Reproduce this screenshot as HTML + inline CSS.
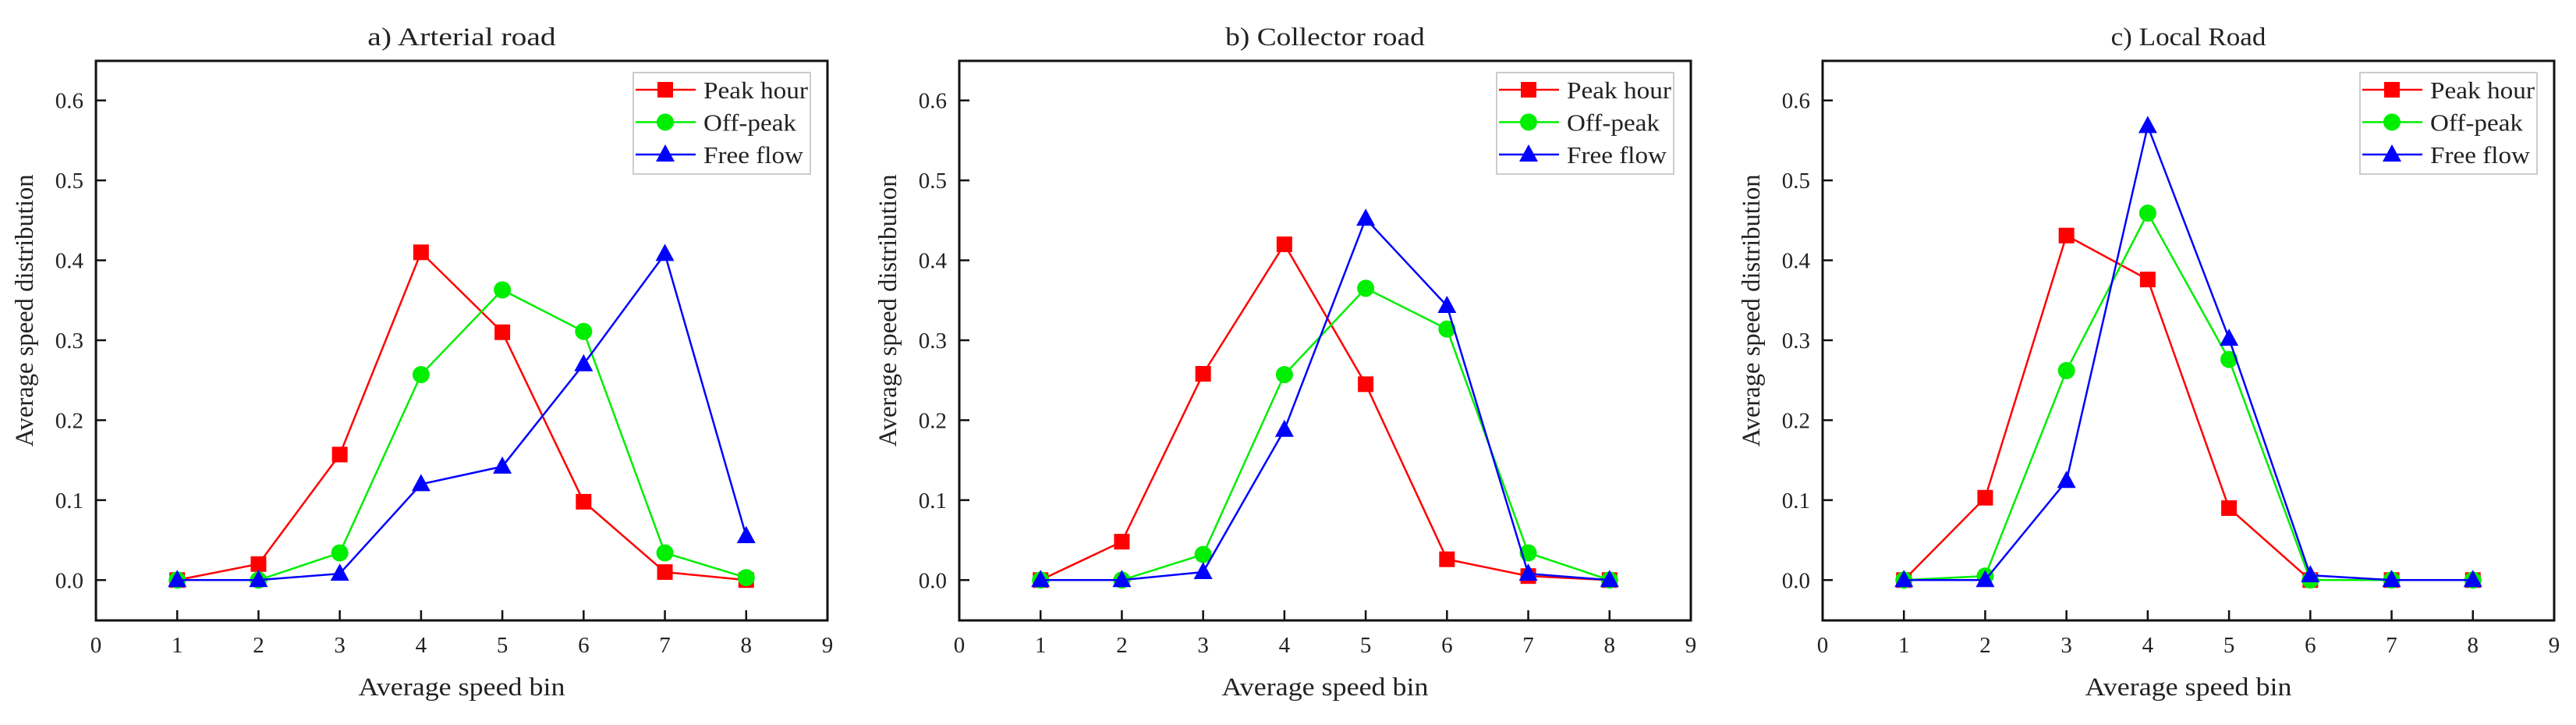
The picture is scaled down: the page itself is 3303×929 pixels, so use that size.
<!DOCTYPE html>
<html><head><meta charset="utf-8"><style>
body{margin:0;background:#fff}
svg text{font-family:"Liberation Serif",serif;fill:#222}
</style></head><body>
<svg id="chart" width="3303" height="924" viewBox="0 0 3303 924" xmlns="http://www.w3.org/2000/svg"></svg>
<script>
const bins = [1,2,3,4,5,6,7,8];
const xTicks = [0,1,2,3,4,5,6,7,8,9];
const yTicks = [0.0,0.1,0.2,0.3,0.4,0.5,0.6];
const seriesNames = ["Peak hour","Off-peak","Free flow"];
const panelTitles = ["a)  Arterial road","b)  Collector road","c)  Local Road"];
const arterialPeak = [0,0.02,0.157,0.41,0.31,0.098,0.01,0];
const arterialOff = [0,0,0.034,0.257,0.363,0.311,0.034,0.003];
const arterialFree = [0,0,0.008,0.12,0.142,0.27,0.408,0.055];
const collectorPeak = [0,0.048,0.258,0.42,0.245,0.026,0.005,0];
const collectorOff = [0,0,0.032,0.257,0.365,0.314,0.034,0];
const collectorFree = [0,0,0.01,0.188,0.452,0.343,0.008,0];
const localPeak = [0,0.103,0.431,0.376,0.09,0,0,0];
const localOff = [0,0.005,0.262,0.459,0.276,0,0,0];
const localFree = [0,0,0.124,0.568,0.302,0.006,0,0];

const panelsData = [[arterialPeak,arterialOff,arterialFree],[collectorPeak,collectorOff,collectorFree],[localPeak,localOff,localFree]];
const colors = ["#ff0000","#00ee00","#0000ff"];
const NS = "http://www.w3.org/2000/svg";
const svg = document.getElementById("chart");
function mk(tag, attrs, parent){const e=document.createElementNS(NS,tag);for(const k in attrs)e.setAttribute(k,attrs[k]);(parent||svg).appendChild(e);return e;}
function marker(g, s, cx, cy){
  let m;
  if(s===0) m=mk("rect",{x:cx-10,y:cy-10,width:20,height:20,fill:colors[0]},g);
  else if(s===1) m=mk("circle",{cx:cx,cy:cy,r:11,fill:colors[1]},g);
  else m=mk("polygon",{points:`${cx},${cy-13} ${cx+12},${cy+9} ${cx-12},${cy+9}`,fill:colors[2]},g);
  return m;
}
const panelLefts=[123,1230,2337], W=938, plotTop=78, plotBottom=795;
const yMin=-0.0505, yMax=0.6495, xMin=0, xMax=9;
panelLefts.forEach((L,p)=>{
  const g=mk("g",{});
  
  
  const xs=v=>L+(v-xMin)/(xMax-xMin)*W;
  const ys=v=>plotBottom-(v-yMin)/(yMax-yMin)*(plotBottom-plotTop);
  const t=mk("text",{x:L+W/2,y:58,"text-anchor":"middle","font-size":33,textLength:panelTitles[p].length*14.2,lengthAdjust:"spacingAndGlyphs"},g);
  t.textContent=panelTitles[p];
  
  
  const frame=mk("rect",{x:L,y:plotTop,width:W,height:plotBottom-plotTop,fill:"none",stroke:"#111","stroke-width":3},g);
  
  
  xTicks.forEach(v=>{
    if(v>0&&v<9) mk("line",{x1:xs(v),x2:xs(v),y1:plotBottom,y2:plotBottom-13,stroke:"#111","stroke-width":2.5},g);
    const tl=mk("text",{x:xs(v),y:836,"text-anchor":"middle","font-size":29},g);
    tl.textContent=v;
    
    
  });
  yTicks.forEach(v=>{
    mk("line",{x1:L,x2:L+13,y1:ys(v),y2:ys(v),stroke:"#111","stroke-width":2.5},g);
    const tl=mk("text",{x:L-16,y:ys(v)+10,"text-anchor":"end","font-size":29},g);
    tl.textContent=v.toFixed(1);
    
    
  });
  const xt=mk("text",{x:L+W/2,y:891,"text-anchor":"middle","font-size":33,textLength:265,lengthAdjust:"spacingAndGlyphs"},g);
  xt.textContent="Average speed bin";
  
  
  const yx=L-81, yc=398;
  const yt=mk("text",{x:yx,y:yc,"text-anchor":"middle","font-size":33,transform:`rotate(-90 ${yx} ${yc})`,textLength:349,lengthAdjust:"spacingAndGlyphs"},g);
  yt.textContent="Average speed distribution";
  
  
  panelsData[p].forEach((vals,s)=>{
    const sg=mk("g",{},g);
    
    
    const pts=vals.map((v,i)=>xs(bins[i])+","+ys(v)).join(" ");
    mk("polyline",{points:pts,fill:"none",stroke:colors[s],"stroke-width":2.5},sg);
    vals.forEach((v,i)=>{
      const m=marker(sg,s,xs(bins[i]),ys(v));
      
      
    });
  });
  const lg=mk("g",{},g);
  
  
  const lx=L+689;
  mk("rect",{x:lx,y:93,width:227,height:130,fill:"#fff",stroke:"#ccc","stroke-width":2},lg);
  seriesNames.forEach((n,s)=>{
    const yy=115+s*41.5;
    const e=mk("g",{},lg);
    
    
    mk("line",{x1:lx+3,x2:lx+80,y1:yy,y2:yy,stroke:colors[s],"stroke-width":2.5},e);
    marker(e,s,lx+41,yy);
    const tx=mk("text",{x:lx+90,y:yy+11,"font-size":31,textLength:s===0?134:(s===1?119:128),lengthAdjust:"spacingAndGlyphs"},e);
    tx.textContent=n;
  });
});
</script>
</body></html>
